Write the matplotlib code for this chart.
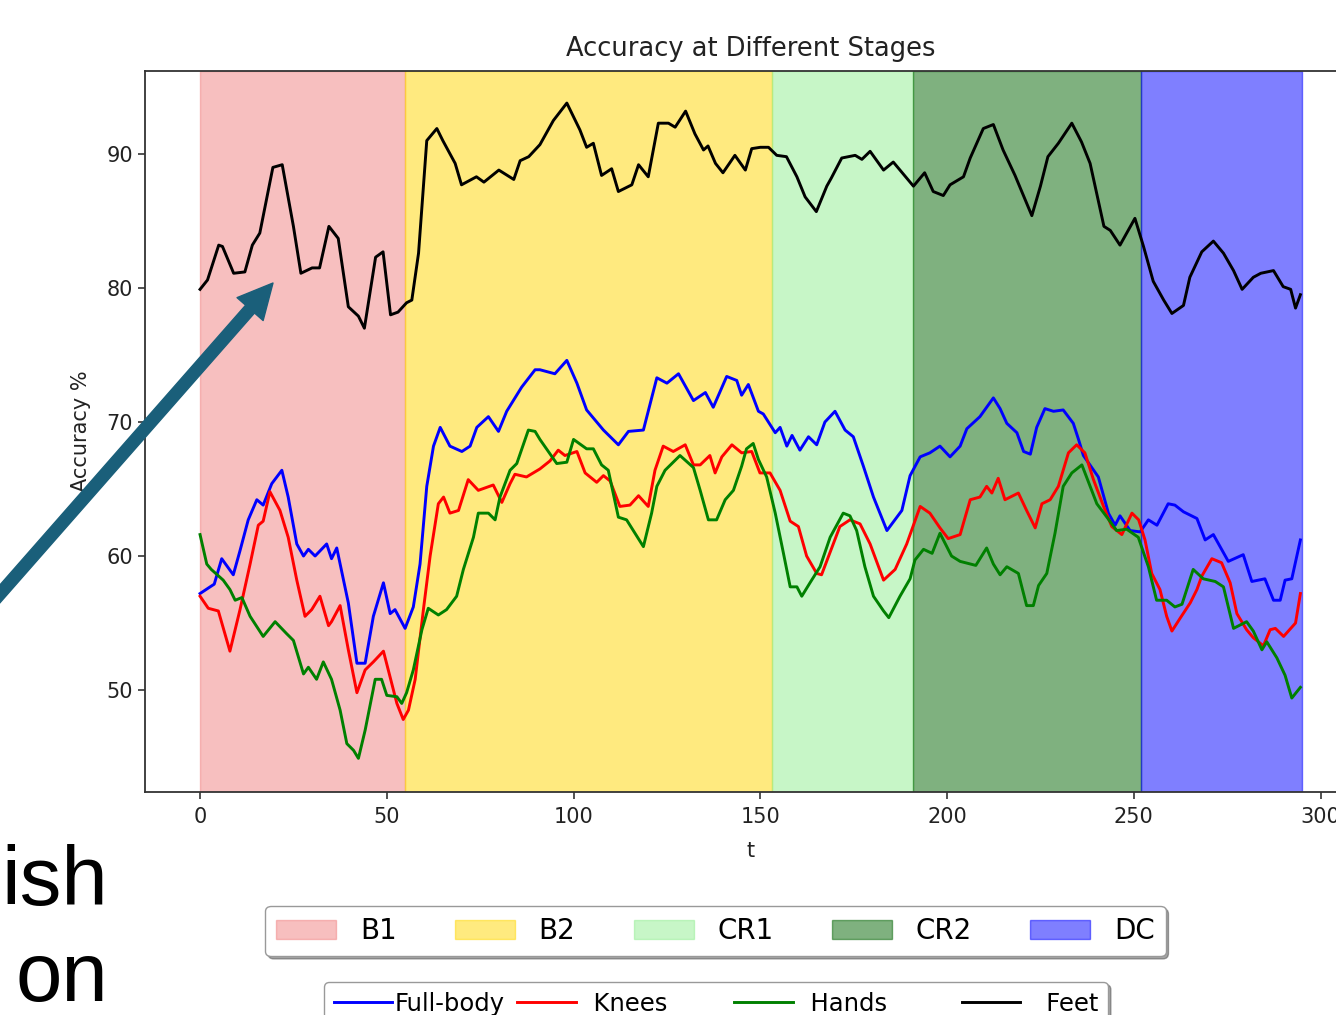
import numpy as np
import matplotlib
matplotlib.use("Agg")
import matplotlib.pyplot as plt
from matplotlib.patches import FancyArrowPatch

plt.rcParams["font.family"] = ["DejaVu Sans"]

# stages shown as coloured bands
stage_names = ["B1", "B2", "CR1", "CR2", "DC"]
stage_edges = [0, 55, 153, 191, 252, 295]

# Full-body
body_t = [0, 2.7, 3.8, 5.8, 8.9, 10.7, 12.9, 15.2, 16.9, 19.2, 21.9, 23.6, 25.9, 27.7, 29, 30.8,
          33.9, 35.2, 36.6, 39.7, 42, 44.2, 46.4, 49.1, 50.9, 52.2, 54.9, 57.1, 58.9, 60.7, 62.5,
          64.3, 66.9, 70.1, 72.3, 74.1, 77.2, 79.9, 82.1, 86.1, 89.7, 91, 95, 98.2, 100.9, 103.5,
          108, 112, 114.7, 118.7, 122.3, 125, 128.1, 132.1, 135.3, 137.4, 141, 143.7, 145, 146.8,
          149.5, 150.8, 154, 155.3, 157.1, 158.5, 160.6, 162.9, 165.1, 167.3, 170, 172.7, 174.9,
          177.6, 180.3, 183.9, 187.9, 190.1, 192.8, 195.4, 198.1, 200.8, 203.5, 205.3, 208.8,
          212.4, 214.2, 216, 218.7, 220.5, 222.3, 224, 226.2, 228.5, 231.1, 233.8, 235.2, 236.5,
          240.5, 243.2, 245, 246.3, 249, 251.7, 253.9, 256.2, 259.2, 261, 263.3, 266.9, 269.1,
          271.3, 275.3, 279.3, 281.6, 285.1, 287.4, 289.2, 290.5, 292.3, 294.6]
body_acc = [57.2, 57.7, 57.9, 59.8, 58.6, 60.4, 62.7, 64.2, 63.8, 65.4, 66.4, 64.4, 60.9, 60.0, 60.5, 60.0,
            60.9, 59.8, 60.6, 56.5, 52.0, 52.0, 55.5, 58.0, 55.7, 56.0, 54.6, 56.2, 59.4, 65.2, 68.2,
            69.6, 68.2, 67.8, 68.2, 69.6, 70.4, 69.3, 70.8, 72.6, 73.9, 73.9, 73.6, 74.6, 72.9, 70.9,
            69.4, 68.3, 69.3, 69.4, 73.3, 72.9, 73.6, 71.6, 72.2, 71.1, 73.4, 73.1, 72.0, 72.8,
            70.8, 70.6, 69.2, 69.6, 68.2, 69.0, 67.9, 68.9, 68.3, 70.0, 70.8, 69.4, 68.9,
            66.7, 64.4, 61.9, 63.4, 66.0, 67.4, 67.7, 68.2, 67.4, 68.2, 69.5, 70.4,
            71.8, 71.0, 69.9, 69.2, 67.8, 67.6, 69.6, 71.0, 70.8, 70.9, 69.9, 68.7, 67.5,
            65.9, 63.2, 62.3, 63.0, 61.9, 61.8, 62.7, 62.3, 63.9, 63.8, 63.3, 62.8, 61.2,
            61.6, 59.6, 60.1, 58.1, 58.3, 56.7, 56.7, 58.2, 58.3, 61.2]

# Knees
knees_t = [0, 2.2, 4.9, 8, 10.7, 13.4, 15.6, 16.9, 18.7, 21.4, 23.6, 25.9, 28.1, 29.9, 32.1, 34.4,
           35.2, 37.5, 39.7, 42, 44.2, 46.4, 49.1, 50.4, 52.7, 54.4, 55.8, 57.6, 59.8, 61.6, 63.8,
           65.2, 66.9, 69.2, 71.8, 74.5, 78.5, 80.8, 83, 84.3, 87.4, 91, 93.7, 95.9, 97.7, 100.9,
           103.1, 106.2, 108, 109.8, 112.4, 115.1, 117.4, 120, 121.8, 124, 126.7, 129.9, 132.1,
           133.9, 136.5, 137.9, 139.7, 142.4, 145, 147.7, 149.9, 152.6, 155.3, 158, 160.2, 162.4,
           165.1, 166.4, 168.7, 171.3, 174, 176.7, 179.4, 183, 186.1, 189.2, 192.8, 195.4, 198.1,
           200.3, 203.5, 206.2, 208.8, 210.6, 212, 213.7, 215.5, 219.1, 221.3, 223.6, 225.4, 227.6,
           229.8, 232.5, 234.7, 236.9, 239.2, 241.9, 244.1, 246.8, 249.5, 251.3, 253, 254.8, 257,
           258.8, 260.2, 262.5, 265.1, 266.9, 268.2, 270.9, 273.5, 275.8, 277.6, 280.2, 282, 284.7,
           286.5, 287.9, 290.1, 293.3, 294.6]
knees_acc = [57.0, 56.1, 55.9, 52.9, 56.0, 59.4, 62.3, 62.6, 64.8, 63.4, 61.4, 58.2, 55.5, 56.0, 57.0, 54.8,
             55.1, 56.3, 53.0, 49.8, 51.5, 52.1, 52.9, 51.5, 49.0, 47.8, 48.5, 50.8, 56.0, 60.0, 63.9,
             64.4, 63.2, 63.4, 65.7, 64.9, 65.3, 64.0, 65.4, 66.1, 65.9, 66.5, 67.1, 67.9, 67.5, 67.8,
             66.2, 65.5, 66.0, 65.6, 63.7, 63.8, 64.5, 63.7, 66.4, 68.2, 67.8, 68.3, 66.8,
             66.8, 67.5, 66.2, 67.4, 68.3, 67.7, 67.8, 66.2, 66.2, 64.9, 62.6, 62.2, 60.0,
             58.7, 58.6, 60.3, 62.2, 62.7, 62.4, 60.9, 58.2, 59.0, 60.9, 63.7, 63.2, 62.1,
             61.3, 61.6, 64.2, 64.4, 65.2, 64.7, 65.8, 64.2, 64.7, 63.4, 62.1, 63.9, 64.2,
             65.2, 67.7, 68.3, 67.7, 65.7, 63.7, 62.2, 61.6, 63.2, 62.7, 61.2, 58.7, 57.5,
             55.5, 54.4, 55.4, 56.5, 57.5, 58.5, 59.8, 59.5, 58.0, 55.7, 54.5, 53.9, 53.3,
             54.5, 54.6, 54.0, 55.0, 57.2]

# Hands
hands_t = [0, 1.8, 3, 6.2, 8, 9.4, 11.2, 13.4, 16.9, 20.1, 23.2, 25, 27.7, 29, 31.2, 33, 35.2, 37.5,
           39.3, 41.1, 42.4, 44.2, 46.9, 48.6, 50, 52.7, 54, 55.3, 57.1, 59.4, 61.1, 63.8, 66, 68.7,
           70.5, 73.2, 74.5, 77.2, 79, 80.3, 83, 84.8, 87.9, 89.7, 91, 95.5, 98.2, 100, 103.5, 105.3,
           107.5, 109.3, 112, 114.2, 116, 118.7, 120.9, 122.3, 124.5, 128.5, 132.1, 133.9, 136.1,
           138.3, 140.6, 142.8, 145, 146.3, 148.1, 149.5, 151.7, 154, 156.2, 158, 159.8, 161.1,
           163.3, 166, 168.7, 172.2, 174, 175.8, 178, 180.3, 183, 184.4, 187.4, 190.1, 191.4, 193.7,
           196, 198.1, 201.2, 203.5, 207.7, 210.6, 212.4, 214.2, 216, 219.1, 221.3, 223.1, 224.5,
           226.7, 228.9, 231.1, 233.4, 236.1, 238.3, 240.1, 242.8, 245.4, 248.1, 251.2, 253.9,
           256.1, 258.8, 261, 262.9, 265.9, 268.6, 271.8, 274, 276.7, 280.2, 282, 284.3, 285.6,
           288.3, 290.5, 292.3, 294.6]
hands_acc = [61.6, 59.4, 59.0, 58.2, 57.5, 56.7, 56.9, 55.5, 54.0, 55.1, 54.2, 53.7, 51.2, 51.7, 50.8, 52.1, 50.8, 48.5,
             46.0, 45.5, 44.9, 47.0, 50.8, 50.8, 49.6, 49.5, 49.0, 49.8, 51.5, 54.5, 56.1, 55.6, 56.0, 57.0,
             59.0, 61.4, 63.2, 63.2, 62.7, 64.4, 66.4, 66.9, 69.4, 69.3, 68.7, 66.9, 67.0, 68.7, 68.0, 68.0,
             66.8, 66.4, 62.9, 62.7, 61.9, 60.7, 63.2, 65.2, 66.4, 67.5, 66.6, 64.9, 62.7,
             62.7, 64.2, 64.9, 66.7, 68.0, 68.4, 67.2, 65.9, 63.2, 60.2, 57.7, 57.7, 57.0,
             58.0, 59.2, 61.4, 63.2, 63.0, 61.9, 59.2, 57.0, 55.9, 55.4, 57.0, 58.3, 59.7, 60.5,
             60.2, 61.7, 60.0, 59.6, 59.3, 60.6, 59.4, 58.6, 59.2, 58.7, 56.3, 56.3, 57.8,
             58.7, 61.7, 65.2, 66.2, 66.8, 65.2, 63.9, 62.9, 61.9, 62.0, 61.4, 59.2,
             56.7, 56.7, 56.2, 56.4, 59.0, 58.3, 58.1, 57.7, 54.6, 55.1, 54.4, 53.0, 53.6,
             52.4, 51.1, 49.4, 50.2]

# Feet
feet_t = [0, 2, 5, 6, 9, 12, 14, 16, 19.5, 22, 25, 27, 30, 32, 34.5, 37, 39.7, 42.4, 44, 47, 49, 51,
          53, 55.3, 56.7, 58.5, 60.7, 63.4, 65, 68.3, 70, 74, 76, 80, 84, 85.7, 88, 91, 94.6, 98.2,
          101.7, 103.5, 105.3, 107.5, 110.2, 112, 115.6, 117.4, 120, 122.7, 125.4, 127.2, 130, 132.5,
          134.8, 136, 138, 140, 143.2, 146, 147.7, 150, 152.2, 154.4, 157, 159.8, 162, 165, 167.8,
          169, 171.8, 175.4, 177.2, 179.4, 183, 185.6, 188, 191, 194, 196.3, 199, 200.8, 204.4,
          206.2, 209.7, 212.4, 215, 218.2, 222.7, 225, 227, 229.8, 233.4, 236, 238.3, 242, 243.7,
          246.3, 250.3, 252.6, 255.2, 258, 260.2, 263.3, 265, 268.2, 271.3, 274, 276.7, 279, 282,
          284, 287.4, 290, 292, 293.3, 294.6]
feet_acc = [79.9, 80.6, 83.2, 83.1, 81.1, 81.2, 83.2, 84.1, 89.0, 89.2, 84.6, 81.1, 81.5, 81.5, 84.6, 83.7, 78.6, 77.9, 77.0, 82.3, 82.7, 78.0,
            78.2, 78.9, 79.1, 82.6, 91.0, 91.9, 91.0, 89.3, 87.7, 88.3, 87.9, 88.8, 88.1, 89.5, 89.8, 90.7, 92.5, 93.8,
            91.8, 90.5, 90.8, 88.4, 88.9, 87.2, 87.7, 89.2, 88.3, 92.3, 92.3, 92.0, 93.2, 91.5,
            90.3, 90.6, 89.3, 88.6, 89.9, 88.8, 90.4, 90.5, 90.5, 89.9, 89.8, 88.3, 86.8, 85.7, 87.6,
            88.2, 89.7, 89.9, 89.6, 90.2, 88.8, 89.4, 88.6, 87.6, 88.6, 87.2, 86.9, 87.7, 88.3,
            89.7, 91.9, 92.2, 90.3, 88.4, 85.4, 87.6, 89.8, 90.8, 92.3, 90.9, 89.3, 84.6, 84.3,
            83.2, 85.2, 83.1, 80.5, 79.1, 78.1, 78.7, 80.8, 82.7, 83.5, 82.6, 81.3, 79.9, 80.8,
            81.1, 81.3, 80.1, 79.9, 78.5, 79.5]

series_names = ["Full-body", "Knees", "Hands", "Feet"]

fig = plt.figure(figsize=(13.36, 10.15), dpi=100)
ax = fig.add_axes([0.1085, 0.2197, 0.9072, 0.7103])

span_colors = ["lightcoral", "gold", "lightgreen", "darkgreen", "blue"]
spans = []
for name, x0, x1, c in zip(stage_names, stage_edges[:-1], stage_edges[1:], span_colors):
    spans.append(ax.axvspan(x0, x1, color=c, alpha=0.5, label=name))

lines = []
for tt, yy, c in zip([body_t, knees_t, hands_t, feet_t],
                     [body_acc, knees_acc, hands_acc, feet_acc],
                     ["blue", "red", "green", "black"]):
    ln, = ax.plot(tt, yy, color=c, lw=2.1)
    lines.append(ln)

ax.set_xlim(-14.75, 309.75)
ax.set_ylim(42.39, 96.19)
ax.set_xticks([0, 50, 100, 150, 200, 250, 300])
ax.set_yticks([50, 60, 70, 80, 90])
ax.tick_params(labelsize=15, labelcolor="#222222", color="#333333", width=1.2, length=5)
ax.tick_params(axis="x", pad=6)
for s in ax.spines.values():
    s.set_color("#333333")
    s.set_linewidth(1.3)
ax.set_title("Accuracy at Different Stages", fontsize=18.5, color="#222222", pad=10.5)
ax.set_xlabel("t", fontsize=15, color="#222222", labelpad=10)
ax.set_ylabel("Accuracy %", fontsize=15, color="#222222", labelpad=11)

fig.legend(spans, stage_names, loc="center", bbox_to_anchor=(715.5 / 1336, 1 - 931 / 1015),
           ncol=5, fontsize=20, shadow=True, handlelength=2.15, handletextpad=0.86,
           columnspacing=2.1, borderpad=0.4, borderaxespad=0, edgecolor="0.6")

line_labels = ["Full-body", "  Knees       ", "  Hands        ", "   Feet"]
fig.legend(lines, line_labels, loc="upper center", bbox_to_anchor=(716 / 1336, 1 - 982 / 1015),
           ncol=4, fontsize=17.5, shadow=True, handlelength=2.4, handletextpad=0.12,
           columnspacing=0.5, borderpad=0.4, borderaxespad=0, edgecolor="0.6")

# slide fragments left of the chart
fig.text(108 / 1336, 1 - 905 / 1015, "ish", ha="right", va="baseline", fontsize=60,
         family="Liberation Sans", color="black")
fig.text(108 / 1336, 1 - 1001 / 1015, "on", ha="right", va="baseline", fontsize=60,
         family="Liberation Sans", color="black")

arrow = FancyArrowPatch((-0.01, 1 - 609 / 1015), (273 / 1336, 1 - 283 / 1015),
                        transform=fig.transFigure, mutation_scale=1,
                        arrowstyle="simple,head_length=25,head_width=25,tail_width=8.5",
                        color="#1a5f7a", shrinkA=0, shrinkB=0, zorder=5)
fig.add_artist(arrow)

fig.savefig("out.png", dpi=100)
